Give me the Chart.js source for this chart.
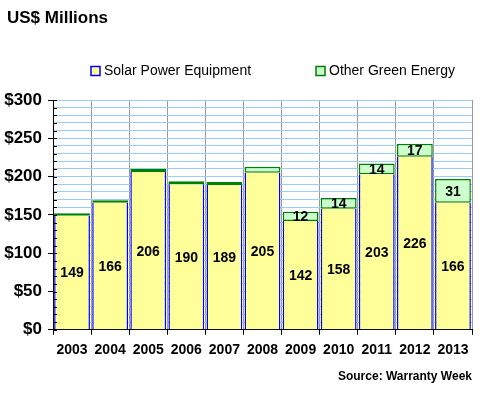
<!DOCTYPE html>
<html><head><meta charset="utf-8">
<script src="https://cdn.jsdelivr.net/npm/chart.js@4"></script>
<style>html,body{margin:0;padding:0;background:#fff}#w{width:480px;height:400px}</style>
</head><body><div id="w"><canvas id="c" width="480" height="400"></canvas></div>
<script>
const categories = ['2003','2004','2005','2006','2007','2008','2009','2010','2011','2012','2013'];
const solarValues = [149,166,206,190,189,205,142,158,203,226,166];
const otherValues = [3,3,4,4,4,8,12,14,14,17,31];
const yTickLabels = ['$0','$50','$100','$150','$200','$250','$300'];
const seriesNames = ['Solar Power Equipment','Other Green Energy'];
const FONT = 'Liberation Sans, Arial, sans-serif';

const labelPlugin = {
  id: 'barLabels',
  afterDatasetsDraw(chart) {
    const ctx = chart.ctx;
    ctx.save();
    ctx.font = 'bold 14px ' + FONT;
    ctx.fillStyle = '#000';
    ctx.textAlign = 'center';
    ctx.textBaseline = 'middle';
    chart.data.datasets.forEach((ds, i) => {
      const meta = chart.getDatasetMeta(i);
      meta.data.forEach((el, j) => {
        const v = ds.data[j];
        if (i === 1 && v < 10) return;
        const p = el.getProps(['x','y','base'], true);
        ctx.fillText(String(v), p.x, (p.y + p.base) / 2 + 1);
      });
    });
    ctx.restore();
  }
};

const minorTicks = {
  id: 'minorTicks',
  afterDraw(chart) {
    const y = chart.scales.y, ctx = chart.ctx;
    ctx.save();
    ctx.strokeStyle = '#000';
    ctx.lineWidth = 1;
    for (let v = 0; v <= 300; v += 10) {
      const py = Math.round(y.getPixelForValue(v)) + 0.5;
      ctx.beginPath();
      ctx.moveTo(chart.chartArea.left, py);
      ctx.lineTo(chart.chartArea.left + 4, py);
      ctx.stroke();
    }
    ctx.restore();
  }
};

// Nudge the title a few pixels in from the canvas edge
const titleShift = {
  id: 'titleShift',
  afterLayout(chart) {
    if (chart.titleBlock) { chart.titleBlock.left += 5; chart.titleBlock.right += 5; }
  }
};

// Legend drawn on the canvas from the datasets' own labels and colours
const customLegend = {
  id: 'customLegend',
  afterDraw(chart) {
    const ctx = chart.ctx;
    const xs = [91, 316];
    const yc = 71;
    ctx.save();
    ctx.font = '14px ' + FONT;
    ctx.textBaseline = 'middle';
    ctx.textAlign = 'left';
    chart.data.datasets.forEach((ds, i) => {
      const x = xs[i];
      ctx.fillStyle = ds.backgroundColor;
      ctx.fillRect(x, yc - 4.5, 9, 9);
      ctx.strokeStyle = ds.borderColor;
      ctx.lineWidth = 1.5;
      ctx.strokeRect(x, yc - 4.5, 9, 9);
      ctx.fillStyle = '#000';
      ctx.fillText(ds.label, x + 13, yc);
    });
    ctx.restore();
  }
};

new Chart(document.getElementById('c'), {
  type: 'bar',
  data: {
    labels: categories,
    datasets: [
      { label: seriesNames[0], data: solarValues, backgroundColor: '#FFFF99', borderColor: '#0000FF', borderWidth: {left:1.5,right:1.5,top:0,bottom:0}, borderSkipped: false },
      { label: seriesNames[1], data: otherValues, backgroundColor: '#CCFFCC', borderColor: '#008000', borderWidth: 1.5, borderSkipped: false }
    ]
  },
  options: {
    responsive: false,
    animation: false,
    layout: { padding: { left: 2, right: 8, top: 0, bottom: 4 } },
    datasets: { bar: { barPercentage: 0.94, categoryPercentage: 1.0 } },
    scales: {
      x: {
        stacked: true,
        grid: { offset: true, color: '#999999', tickColor: '#000', tickLength: 5, drawTicks: true },
        border: { color: '#000', width: 1 },
        ticks: { color: '#000', font: { family: FONT, size: 14, weight: 'bold' }, padding: 7, maxRotation: 0 }
      },
      y: {
        stacked: true,
        min: 0, max: 300,
        afterFit: (scale) => { scale.width = 51; },
        grid: { color: (c) => c.tick && c.tick.value === 0 ? 'rgba(0,0,0,0)' : '#99CCFF', tickColor: (c) => c.tick && c.tick.value % 50 === 0 ? '#000' : 'rgba(0,0,0,0)', tickLength: 5 },
        border: { color: '#000', width: 1 },
        ticks: {
          stepSize: 10, autoSkip: false, color: '#000',
          font: { family: FONT, size: 17, weight: 'bold' }, padding: 6,
          callback: (v) => v % 50 === 0 ? yTickLabels[v / 50] : ''
        }
      }
    },
    plugins: {
      title: { display: true, text: 'US$ Millions', align: 'start', color: '#000', font: { family: FONT, size: 17, weight: 'bold' }, padding: { top: 8, bottom: 71.6 } },
      subtitle: { display: true, text: 'Source: Warranty Week', position: 'bottom', align: 'end', color: '#000', font: { family: FONT, size: 12, weight: 'bold' }, padding: { top: 4, bottom: 12 } },
      legend: { display: false },
      tooltip: { enabled: false }
    }
  },
  plugins: [labelPlugin, minorTicks, customLegend, titleShift]
});
</script></body></html>
